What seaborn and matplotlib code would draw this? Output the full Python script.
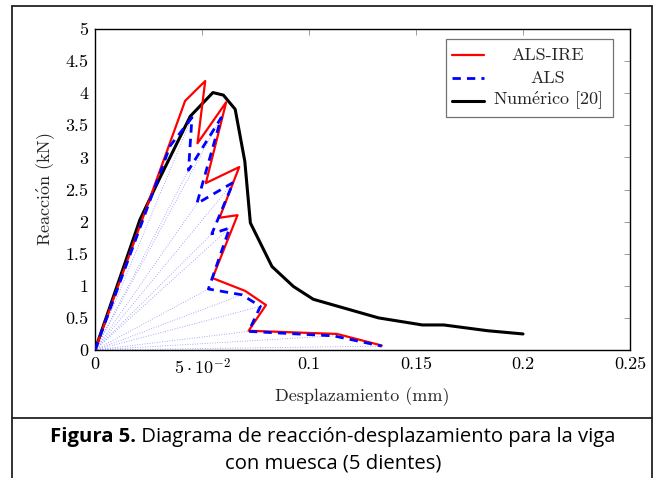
import matplotlib
matplotlib.use("Agg")
import matplotlib.pyplot as plt
import seaborn as sns
import pandas as pd
from matplotlib.lines import Line2D
from matplotlib.patches import Rectangle

# Reaction-displacement curves (displacement in mm, reaction in kN)
als_ire_x = [0.0, 0.0421, 0.0515, 0.0479, 0.0613, 0.0518, 0.0674, 0.0582, 0.0666,
             0.0549, 0.0702, 0.0799, 0.0718, 0.1131, 0.1340]
als_ire_y = [0.0, 3.88, 4.19, 3.22, 3.86, 2.60, 2.85, 2.06, 2.10,
             1.12, 0.92, 0.70, 0.30, 0.25, 0.07]

als_x = [0.0, 0.0351, 0.0453, 0.0437, 0.0590, 0.0476, 0.0646, 0.0546, 0.0629,
         0.0530, 0.0686, 0.0773, 0.0718, 0.1115, 0.1340]
als_y = [0.0, 3.18, 3.62, 2.80, 3.62, 2.28, 2.61, 1.81, 1.90,
         0.95, 0.86, 0.68, 0.29, 0.22, 0.06]

num_x = [0.0, 0.0210, 0.0300, 0.0445, 0.0551, 0.0600, 0.0655, 0.0700, 0.0726,
         0.0827, 0.0927, 0.1020, 0.1325, 0.1530, 0.1630, 0.1835, 0.2000]
num_y = [0.0, 2.03, 2.66, 3.64, 4.01, 3.97, 3.75, 2.94, 1.98,
         1.30, 0.99, 0.79, 0.50, 0.39, 0.39, 0.30, 0.25]

x_ticks = [0.0, 0.05, 0.10, 0.15, 0.20, 0.25]
x_tick_labels = ["0", r"$5\cdot10^{-2}$", "0.1", "0.15", "0.2", "0.25"]
y_ticks = [0, 0.5, 1, 1.5, 2, 2.5, 3, 3.5, 4, 4.5, 5]
y_tick_labels = ["0", "0.5", "1", "1.5", "2", "2.5", "3", "3.5", "4", "4.5", "5"]

series_names = ["ALS-IRE", "ALS", r"Num$\mathrm{\'e}$rico [20]"]
caption_bold = "Figura 5."
caption_rest = " Diagrama de reacción-desplazamiento para la viga"
caption_line2 = "con muesca (5 dientes)"

sns.set_style("white")
plt.rcParams["font.family"] = ["cmr10", "DejaVu Serif"]
plt.rcParams["mathtext.fontset"] = "cm"
plt.rcParams["axes.unicode_minus"] = False

FS = 13
CAP_FS = 14.6
W, H = 656, 478
fig = plt.figure(figsize=(W / 100, H / 100), dpi=100)
ax = fig.add_axes([95 / W, 1 - 350 / H, (630 - 95) / W, (350 - 29) / H])

# secant lines from the origin to each ALS state
for xv, yv in zip(als_x[1:], als_y[1:]):
    ax.plot([0, xv], [0, yv], color="#8c8cff", lw=0.6, ls=(0, (1, 2)), zorder=1)

df_ire = pd.DataFrame({"x": als_ire_x, "y": als_ire_y})
df_als = pd.DataFrame({"x": als_x, "y": als_y})
df_num = pd.DataFrame({"x": num_x, "y": num_y})

sns.lineplot(data=df_ire, x="x", y="y", sort=False, estimator=None, ax=ax,
             color="#ff0000", lw=1.6, zorder=3)
sns.lineplot(data=df_als, x="x", y="y", sort=False, estimator=None, ax=ax,
             color="#0000ff", lw=2.0, zorder=4)
ax.lines[-1].set_linestyle((0, (3, 2.2)))
sns.lineplot(data=df_num, x="x", y="y", sort=False, estimator=None, ax=ax,
             color="black", lw=2.2, zorder=2)

ax.set_xlim(0, 0.25)
ax.set_ylim(0, 5)
ax.set_xticks(x_ticks)
ax.set_xticklabels(x_tick_labels)
ax.set_yticks(y_ticks)
ax.set_yticklabels(y_tick_labels)
ax.tick_params(direction="in", length=4, width=0.6, color="0.55",
               top=True, right=True, labelsize=FS, pad=5, labelcolor="black")
for s in ax.spines.values():
    s.set_color("black")
    s.set_linewidth(1.0)

ax.set_xlabel("Desplazamiento (mm)", fontsize=FS, labelpad=7)
ax.set_ylabel(r"Reacci$\mathrm{\'o}$n (kN)", fontsize=FS, labelpad=6)

# legend box with centred entries
lx0, lx1, ly0, ly1 = 446, 613, 39, 117
def px(x, y):
    return x / W, 1 - y / H
fig.patches.append(Rectangle(px(lx0, ly1), (lx1 - lx0) / W, (ly1 - ly0) / H,
                             transform=fig.transFigure, fill=True, facecolor="white",
                             edgecolor="0.45", lw=0.9, zorder=10))
styles = [dict(color="#ff0000", lw=1.6, ls="-"),
          dict(color="#0000ff", lw=2.0, ls=(0, (3, 2.2))),
          dict(color="black", lw=2.2, ls="-")]
rows = [55, 78, 101]
for name, st, ry in zip(series_names, styles, rows):
    (xa, ya), (xb, _) = px(452, ry), px(484, ry)
    fig.add_artist(Line2D([xa, xb], [ya, ya], transform=fig.transFigure, zorder=11, **st))
    fig.text(*px(548, ry), name, ha="center", va="center", fontsize=FS, zorder=12)

# outer frame and caption
frame_kw = dict(transform=fig.transFigure, color="#222222", lw=1.3)
fig.add_artist(Line2D([12 / W, 12 / W], [0, 1 - 6 / H], **frame_kw))
fig.add_artist(Line2D([652 / W, 652 / W], [0, 1 - 6 / H], **frame_kw))
fig.add_artist(Line2D([12 / W, 652 / W], [1 - 6 / H, 1 - 6 / H], **frame_kw))
fig.add_artist(Line2D([12 / W, 652 / W], [1 - 418 / H, 1 - 418 / H], **frame_kw))

cap_font = ["Open Sans", "DejaVu Sans"]
t1 = fig.text(0, 0, caption_bold, fontsize=CAP_FS, fontweight="bold", family=cap_font,
              va="center", ha="left", color="black")
t2 = fig.text(0, 0, caption_rest, fontsize=CAP_FS, family=cap_font, va="center",
              ha="left", color="black")
fig.canvas.draw()
r = fig.canvas.get_renderer()
w1 = t1.get_window_extent(r).width
w2 = t2.get_window_extent(r).width
start = (333 - (w1 + w2) / 2)
t1.set_position((start / W, 1 - 437 / H))
t2.set_position(((start + w1) / W, 1 - 437 / H))
fig.text(333 / W, 1 - 463 / H, caption_line2, fontsize=CAP_FS, family=cap_font,
         ha="center", va="center", color="black")

fig.savefig("out.png", dpi=100)
